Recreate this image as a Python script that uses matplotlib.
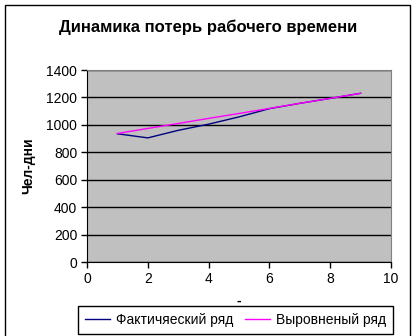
import matplotlib
matplotlib.use('Agg')
import matplotlib.pyplot as plt
from matplotlib.patches import Rectangle

plt.rcParams['font.family'] = ['Liberation Sans', 'DejaVu Sans']

x = [1, 2, 3, 4, 5, 6, 7, 8, 9]
fact = [935, 905, 960, 1005, 1058, 1118, 1157, 1193, 1230]
trend = [937, 974, 1010, 1047, 1083, 1120, 1157, 1193, 1230]

fig = plt.figure(figsize=(4.16, 3.36), dpi=100)
ax = fig.add_axes([87/416, 1 - 262/336, (391 - 87)/416, (262 - 70)/336])
ax.set_facecolor('#C0C0C0')

ax.plot(x, fact, color='#000080', lw=1, label='Фактичяеский ряд')
ax.plot(x, trend, color='#FF00FF', lw=1, label='Выровненый ряд')

ax.set_xlim(0, 10)
ax.set_ylim(0, 1400)
ax.set_xticks(range(0, 11, 2))
ax.set_yticks(range(0, 1401, 200))
ax.yaxis.grid(True, color='black', lw=1)
ax.set_axisbelow(True)
for s in ax.spines.values():
    s.set_color('#808080')
ax.spines['left'].set_color('black')
ax.spines['bottom'].set_color('black')
ax.tick_params(labelsize=10, length=4, width=1, direction='out', pad=3)

ax.set_ylabel('Чел-дни', fontsize=10, fontweight='bold', labelpad=8)
ax.set_xlabel('-', fontsize=10, fontweight='bold', labelpad=6)
fig.text(0.5, 1 - 27/336, 'Динамика потерь рабочего времени', ha='center', va='center',
         fontsize=12, fontweight='bold')

fig.legend(loc='upper left', bbox_to_anchor=(78/416, 1 - 306/336), ncol=2, fontsize=10,
           frameon=True, fancybox=False, edgecolor='black', framealpha=1,
           borderaxespad=0, handlelength=1.8, handletextpad=0.4,
           columnspacing=0.9, borderpad=0.5)

fig.patches.append(Rectangle((5/416, -0.1), (410 - 5)/416, 1.1 - 5/336, fill=False,
                             ec='black', lw=1, transform=fig.transFigure, figure=fig))

fig.savefig('out.png', dpi=100)
